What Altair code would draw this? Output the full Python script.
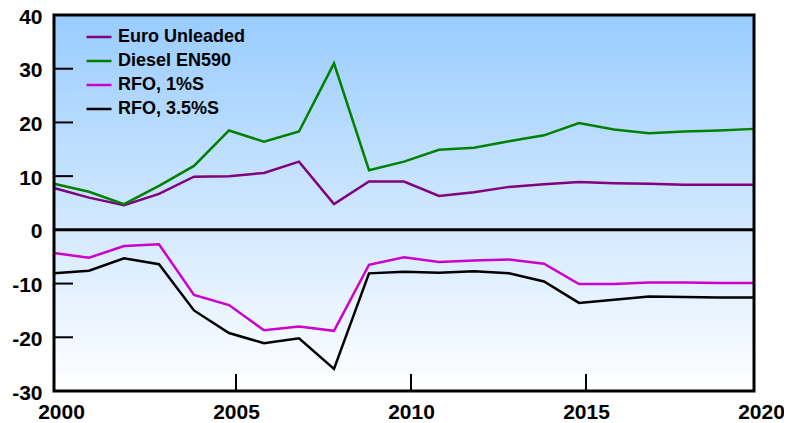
import altair as alt
import pandas as pd

years = list(range(2000, 2021))
euro_unleaded = [7.8, 6.0, 4.6, 6.7, 9.9, 10.0, 10.6, 12.7, 4.8, 9.0, 9.0, 6.3, 7.0, 8.0, 8.5, 8.9, 8.7, 8.6, 8.4, 8.4, 8.4]
diesel_en590 = [8.6, 7.1, 4.8, 8.2, 11.9, 18.5, 16.4, 18.3, 31.0, 11.1, 12.7, 14.9, 15.3, 16.5, 17.6, 19.9, 18.7, 18.0, 18.3, 18.5, 18.8]
rfo_1 = [-4.3, -5.2, -3.0, -2.7, -12.1, -14.0, -18.7, -18.0, -18.8, -6.5, -5.1, -6.0, -5.7, -5.5, -6.3, -10.1, -10.1, -9.8, -9.8, -9.9, -9.9]
rfo_35 = [-8.1, -7.6, -5.3, -6.4, -15.0, -19.2, -21.1, -20.2, -25.9, -8.1, -7.8, -8.0, -7.7, -8.1, -9.6, -13.6, -13.0, -12.4, -12.5, -12.6, -12.6]

series_names = ["Euro Unleaded", "Diesel EN590", "RFO, 1%S", "RFO, 3.5%S"]
series_colors = ["#800080", "#008000", "#CC00CC", "#000000"]
x_ticks = [2000, 2005, 2010, 2015, 2020]
x_inner_ticks = [2005, 2010, 2015]
y_ticks = [-30, -20, -10, 0, 10, 20, 30, 40]
y_inner_ticks = [-20, -10, 10, 20, 30]

rows = []
for name, vals in zip(series_names, [euro_unleaded, diesel_en590, rfo_1, rfo_35]):
    for yr, v in zip(years, vals):
        rows.append({"year": yr, "value": v, "series": name})
df = pd.DataFrame(rows)

bg = pd.DataFrame([{"x0": 2000, "x1": 2020, "y0": -30, "y1": 40}])

xscale = alt.Scale(domain=[2000, 2020], nice=False, zero=False)
yscale = alt.Scale(domain=[-30, 40], nice=False, zero=False)
FONT = "Liberation Sans"

gradient = {
    "gradient": "linear",
    "x1": 0, "x2": 0, "y1": 0, "y2": 1,
    "stops": [
        {"offset": 0, "color": "#99CCFF"},
        {"offset": 1, "color": "#FFFFFF"},
    ],
}

background = alt.Chart(bg).mark_rect(fill=gradient, stroke=None).encode(
    x=alt.X("x0:Q", scale=xscale,
            axis=alt.Axis(values=x_ticks, labelExpr="'' + datum.value", title=None, ticks=False,
                          domain=False, grid=False, labelFont=FONT, labelFontSize=21,
                          labelFontWeight="bold", labelColor="black", labelPadding=10,
                          labelOffset=7, labelFlush=False, labelOverlap=False)),
    x2="x1:Q",
    y=alt.Y("y0:Q", scale=yscale,
            axis=alt.Axis(values=y_ticks, labelExpr="'' + datum.value", title=None, ticks=False,
                          domain=False, grid=False, labelFont=FONT, labelFontSize=21,
                          labelFontWeight="bold", labelColor="black", labelPadding=12,
                          labelOffset=2, labelFlush=False, labelOverlap=False)),
    y2="y1:Q",
)

lines = alt.Chart(df).mark_line(strokeWidth=2.5).encode(
    x=alt.X("year:Q", scale=xscale),
    y=alt.Y("value:Q", scale=yscale),
    color=alt.Color("series:N",
                    scale=alt.Scale(domain=series_names, range=series_colors),
                    sort=series_names,
                    legend=alt.Legend(title=None, orient="none", legendX=31, legendY=8,
                                      symbolType="stroke", symbolSize=625, symbolStrokeWidth=2.5,
                                      labelFont=FONT, labelFontSize=18, labelFontWeight="bold",
                                      labelColor="black", labelOffset=5, rowPadding=1,
                                      labelLimit=300)),
    detail="series:N",
)

zero = alt.Chart(pd.DataFrame({"y": [0]})).mark_rule(color="black", strokeWidth=3).encode(
    y=alt.Y("y:Q", scale=yscale),
)

xt = alt.Chart(pd.DataFrame({"x": x_inner_ticks})).mark_rule(color="black", strokeWidth=2, xOffset=7).encode(
    x=alt.X("x:Q", scale=xscale),
    y=alt.value(359),
    y2=alt.value(376),
)

yt = alt.Chart(pd.DataFrame({"y": y_inner_ticks})).mark_rule(color="black", strokeWidth=2).encode(
    y=alt.Y("y:Q", scale=yscale),
    x=alt.value(0),
    x2=alt.value(19),
)

frame = alt.Chart(bg).mark_rect(fill=None, stroke="black", strokeWidth=3, fillOpacity=0).encode(
    x=alt.X("x0:Q", scale=xscale),
    x2="x1:Q",
    y=alt.Y("y0:Q", scale=yscale),
    y2="y1:Q",
)

chart = alt.layer(background, lines, zero, xt, yt, frame).properties(
    width=700, height=376,
    autosize=alt.AutoSizeParams(type="none"),
    padding={"left": 46, "top": 7, "right": 30, "bottom": 32},
    background="white",
).configure_view(stroke=None)

chart.save("out.html", embed_options={"renderer": "svg", "actions": False})
